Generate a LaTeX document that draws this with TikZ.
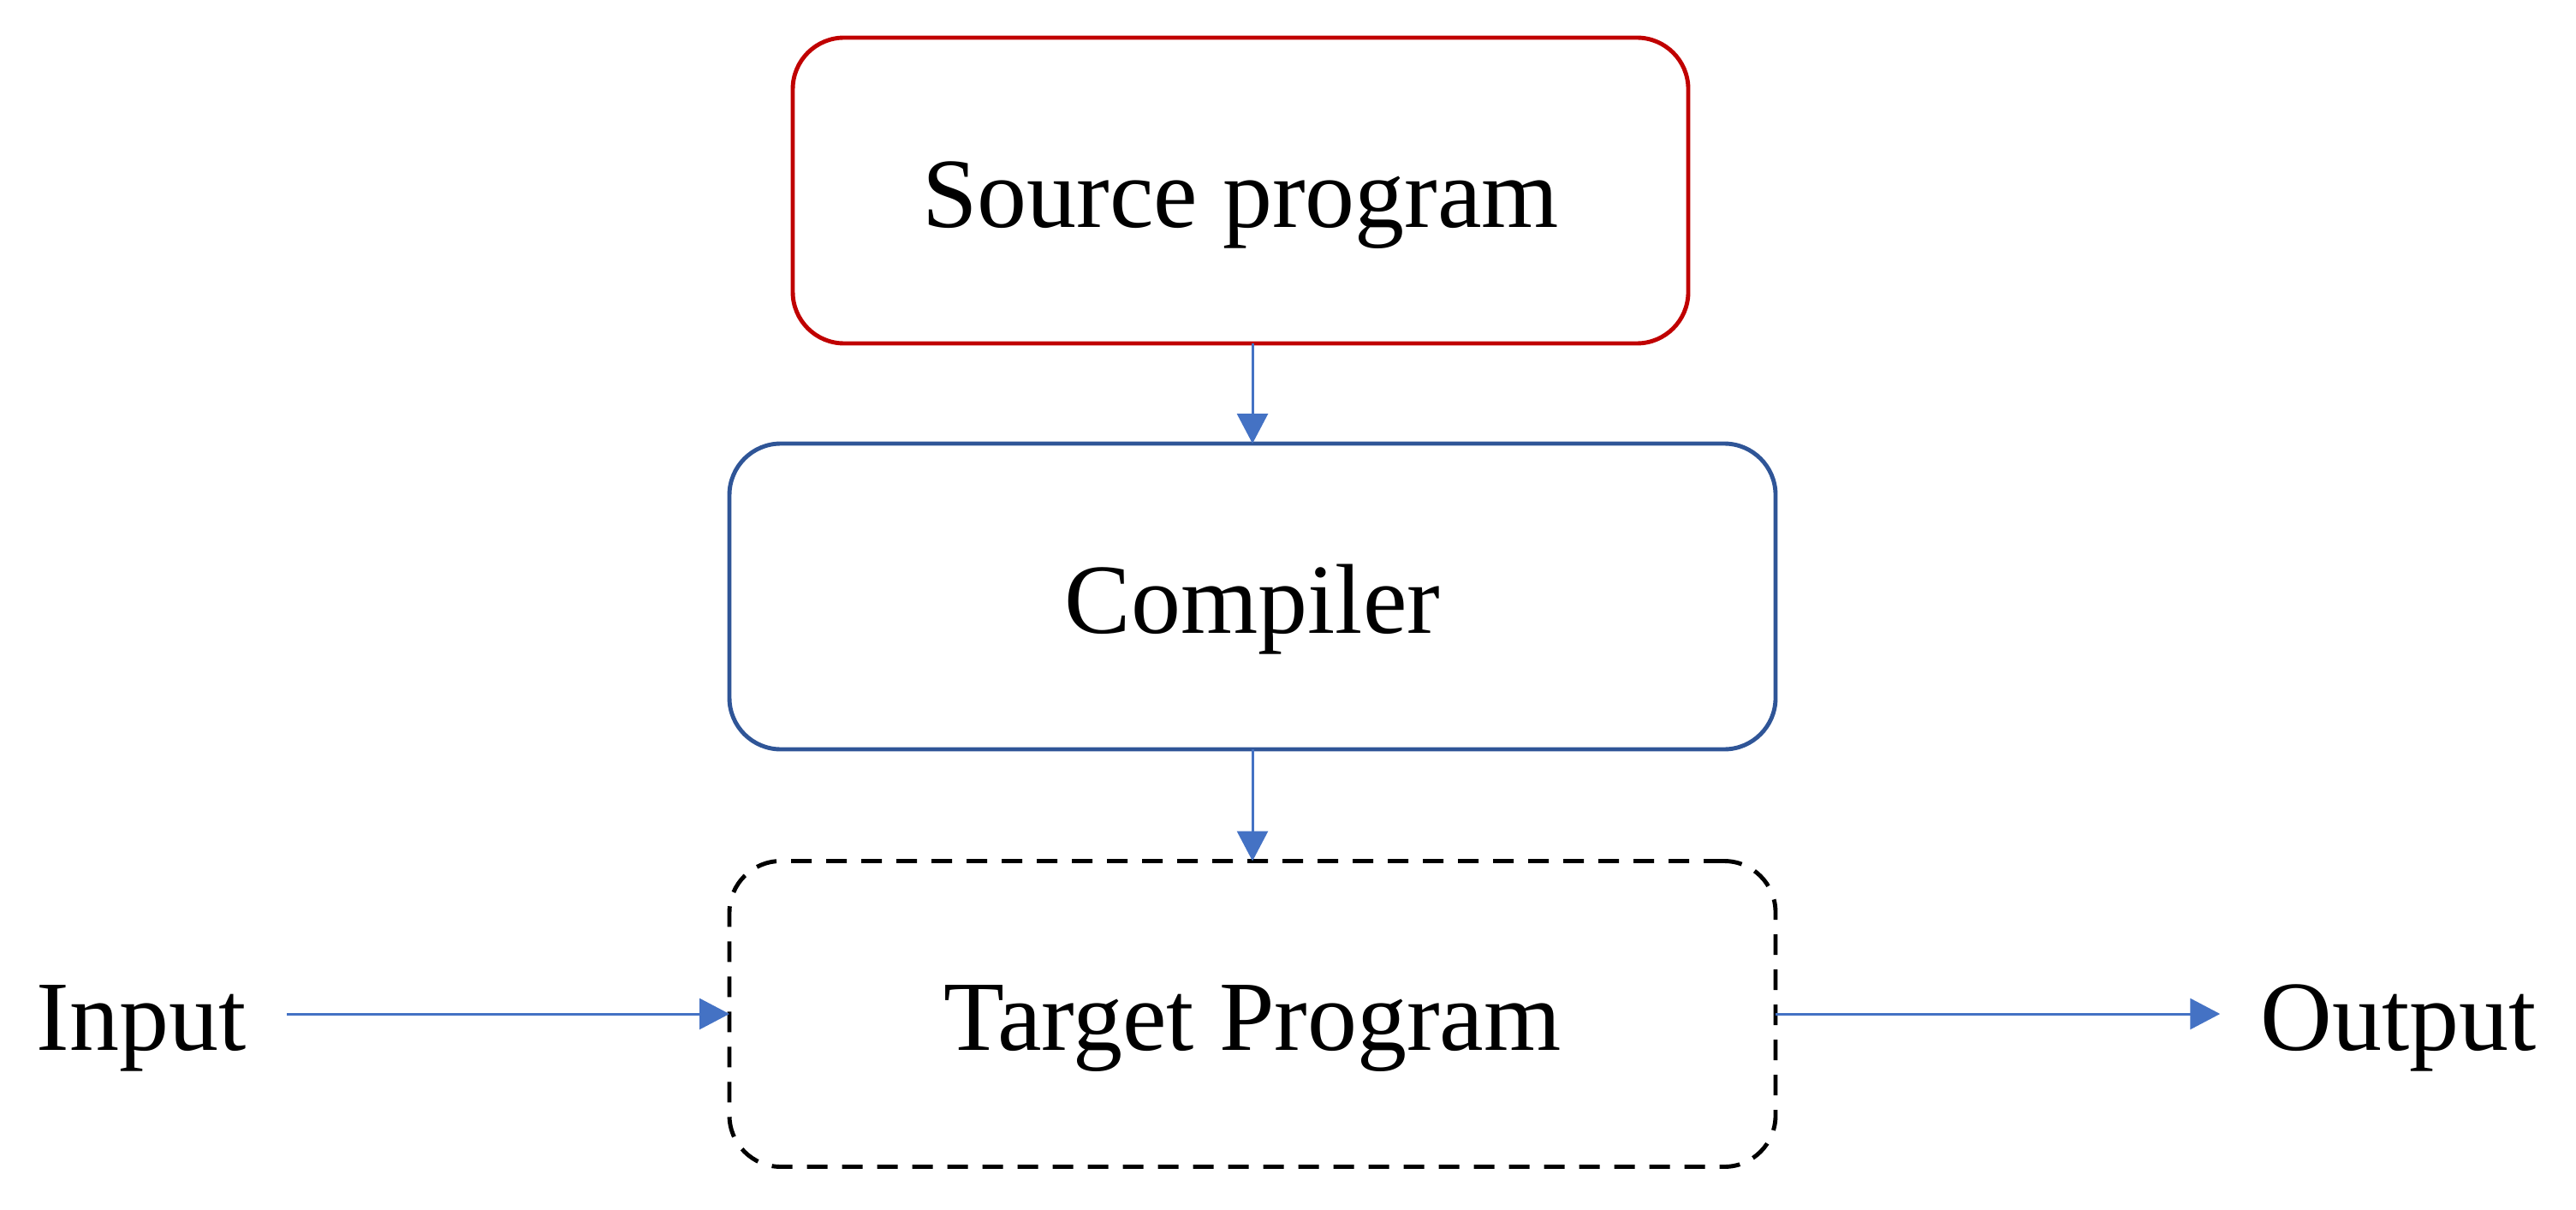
\documentclass[tikz,border=0pt]{standalone}
\usepackage{fontspec}
\setmainfont{Liberation Serif}
\usetikzlibrary{arrows.meta}
\definecolor{srcred}{HTML}{C00000}
\definecolor{cmpblue}{HTML}{2F5597}
\definecolor{arrblue}{HTML}{4472C4}
\begin{document}
\begin{tikzpicture}[
  stage/.style={rectangle,rounded corners=0.6cm,line width=1.4pt,
    outer sep=0,minimum width=12.22cm,
    minimum height=3.57cm,
    text height=30pt,text depth=5.6pt},
  source/.style={stage,draw=srcred,minimum width=10.46cm},
  compiler/.style={stage,draw=cmpblue},
  target/.style={stage,draw=black,dash pattern=on 0.24cm off 0.17cm},
  ioname/.style={inner xsep=0.47cm,text height=30pt,text depth=5.6pt},
  flow/.style={draw=arrblue,line width=0.85pt,
    -{Triangle[length=0.35cm,width=0.36cm]}}]
  \fontsize{33}{40}\selectfont
  \useasboundingbox (0,0) rectangle (30.09,-14.12);
  \node[source] (src) at (14.49,-2.225) {Source program};
  \node[compiler] (cmp) at (14.63,-6.965) {Compiler};
  \node[target] (tgt) at (14.63,-11.84) {Target Program};
  \node[ioname] (in) at (1.65,-11.84) {Input};
  \node[ioname] (out) at (28.02,-11.84) {Output};
  \draw[flow] (src.south -| cmp.north) -- (cmp.north);
  \draw[flow] (cmp) -- (tgt);
  \draw[flow] (in) -- (tgt);
  \draw[flow] (tgt) -- (out);
\end{tikzpicture}
\end{document}
